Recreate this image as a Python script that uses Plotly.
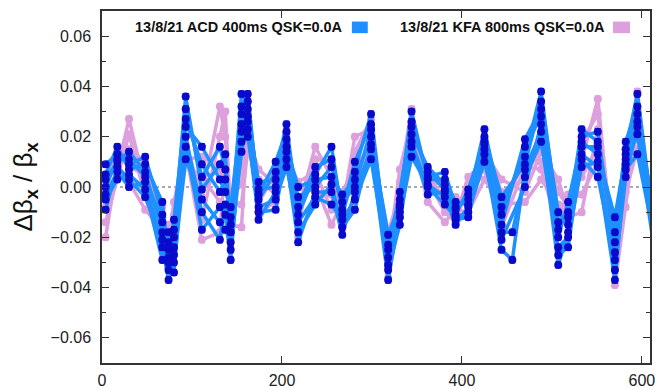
import plotly.graph_objects as go

# BPM positions along the ring [m]
s_pos = [4, 17, 30, 48, 67, 74, 80, 93, 111, 131,
         137, 143, 155, 162, 174, 193, 205, 218, 237, 255,
         267, 281, 299, 318, 331, 344, 362, 381, 393, 407,
         425, 444, 456, 470, 488, 507, 518, 533, 551, 570,
         582, 595, 615]

# Horizontal beta-beating, ACD 400 ms runs (None = BPM not available)
acd_1 = [.009, .013, .009, .012, -.011, -.025, -.013, .031, .004, .016,
         .007, -.015, .037, .034, -.003, .010, .022, -.008, .008, .011,
         -.009, .010, .025, -.025, -.002, .026, .004, .006, -.008, -.005,
         .023, -.008, None, .012, .038, -.014, -.012, .023, .018, -.022,
         .018, .032, -.017]
acd_2 = [.005, .016, .007, .009, -.006, -.028, -.017, .036, -.001, .009,
         .013, -.018, .032, .037, -.005, .006, .025, -.011, .005, .016,
         -.011, .006, .029, -.028, -.005, .030, .003, .003, -.006, -.007,
         .020, -.004, None, .009, .034, -.010, -.015, .020, .022, -.026,
         .015, .037, -.020]
acd_3 = [.003, .010, .014, .006, -.018, -.018, -.020, .024, .016, .003,
         -.002, -.008, .029, .028, .002, .003, .016, .000, .003, .004,
         -.003, .003, .020, -.019, -.007, .021, .008, .001, -.011, -.001,
         .018, -.015, None, .019, .031, -.020, -.006, .018, .013, -.012,
         .013, .026, -.012]
acd_4 = [.000, .011, .011, .004, -.014, -.022, -.024, .027, .009, -.002,
         .003, -.012, .025, .031, -.001, .000, .019, -.004, .000, .008,
         -.006, .000, .023, -.023, -.008, .024, .006, -.001, -.009, -.003,
         .017, -.011, None, .016, .028, -.017, -.010, .016, .016, -.018,
         .011, .029, -.015]
acd_5 = [-.003, .006, .000, .002, -.024, -.037, -.027, .016, -.017, -.008,
         -.011, -.029, .022, .023, -.013, -.002, .011, -.022, -.002, -.002,
         -.019, -.002, .015, -.037, -.010, .016, -.003, -.002, -.013, -.012,
         .015, -.021, None, .000, .025, -.027, -.024, .013, .008, -.037,
         .009, .021, -.028]
acd_6 = [-.005, .003, .005, -.001, -.029, -.030, -.030, .011, -.005, -.014,
         -.017, -.022, .018, .020, -.008, -.005, .008, -.014, -.004, -.007,
         -.013, -.005, .011, -.031, -.012, .012, .001, -.004, -.015, -.008,
         .013, -.025, -.029, .007, .022, -.031, -.018, .011, .004, -.029,
         .007, .013, -.022]
acd_7 = [-.009, .008, .003, -.004, -.021, -.033, -.034, .020, -.010, -.021,
         -.007, -.025, .014, .026, -.010, -.009, .014, -.018, -.007, .001,
         -.016, -.009, .017, -.033, -.015, .018, .000, -.007, -.012, -.010,
         .010, -.018, -.018, .004, .018, -.024, -.020, .008, .010, -.033,
         .004, .024, -.025]

# Horizontal beta-beating, KFA 800 ms runs
kfa_1 = [.005, .012, .015, .010, -.012, -.022, -.006, .017, -.004, .032,
         .020, -.009, .019, .029, -.001, .008, .018, -.009, .016, .004,
         -.009, .020, .023, -.027, .007, .026, .000, .003, -.007, -.003,
         .017, -.002, None, .003, .017, -.002, -.008, .018, .029, -.027,
         .015, .032, -.019]
kfa_2 = [-.001, .014, .008, .005, -.008, -.026, -.011, .020, -.013, .020,
         .030, -.012, .010, .034, -.006, .005, .022, -.014, .011, .010,
         -.013, .014, .027, -.032, .002, .031, -.003, -.001, -.004, -.007,
         .014, .003, None, -.002, .014, .003, -.010, .011, .035, -.033,
         .009, .038, -.022]
kfa_3 = [-.008, .007, .027, .000, -.021, -.015, -.016, .011, .012, .007,
         .000, -.004, .001, .020, .007, .001, .012, .002, .006, -.009,
         -.002, .008, .016, -.018, -.003, .017, .006, -.006, -.012, .004,
         .010, -.011, None, .012, .010, -.011, -.003, .004, .016, -.015,
         .004, .021, -.012]
kfa_4 = [-.014, .004, .021, -.004, -.025, -.019, -.020, .009, .004, -.006,
         -.010, -.007, -.007, .015, .003, -.003, .008, -.004, .001, -.015,
         -.006, .002, .012, -.023, -.007, .012, .003, -.010, -.014, .001,
         .007, -.016, None, .008, .007, -.016, -.005, -.003, .010, -.021,
         -.002, .015, -.016]
kfa_5 = [-.020, .009, .002, -.009, -.017, -.030, -.025, .014, -.021, -.018,
         .010, -.015, -.016, .025, -.010, -.006, .015, -.020, -.004, -.003,
         -.016, -.004, .020, -.036, -.012, .022, -.006, -.014, -.009, -.010,
         .003, -.007, None, -.006, .003, -.007, -.012, -.010, .023, -.039,
         -.008, .027, -.026]

# Measurement uncertainty on each BPM reading
acd_err = 0.0012
kfa_err = 0.0012

acd_label = "13/8/21 ACD 400ms QSK=0.0A"
kfa_label = "13/8/21 KFA 800ms QSK=0.0A"

x_ticks = [0, 200, 400, 600]
y_ticks = [-0.06, -0.04, -0.02, 0.00, 0.02, 0.04, 0.06]

ACD_LINE = "#1e90ff"
ACD_DOT = "#0a0acd"
KFA_LINE = "#dda0dd"

acd_runs = [acd_1, acd_2, acd_3, acd_4, acd_5, acd_6, acd_7]
kfa_runs = [kfa_1, kfa_2, kfa_3, kfa_4, kfa_5]

fig = go.Figure()

# KFA runs: lines, points and error bars in plum
for run in kfa_runs:
    fig.add_trace(go.Scatter(
        x=s_pos, y=run, mode="lines+markers", connectgaps=True,
        line=dict(color=KFA_LINE, width=3.5),
        marker=dict(color=KFA_LINE, size=8, symbol="circle"),
        error_y=dict(type="constant", value=kfa_err, color=KFA_LINE,
                     thickness=1, width=3),
        showlegend=False, hoverinfo="skip"))

# ACD runs: connecting lines first, then the points on top
for run in acd_runs:
    fig.add_trace(go.Scatter(
        x=s_pos, y=run, mode="lines", connectgaps=True,
        line=dict(color=ACD_LINE, width=3.5),
        showlegend=False, hoverinfo="skip"))
for run in acd_runs:
    fig.add_trace(go.Scatter(
        x=s_pos, y=run, mode="markers",
        marker=dict(color=ACD_DOT, size=8, symbol="circle"),
        error_y=dict(type="constant", value=acd_err, color=ACD_DOT,
                     thickness=1, width=3),
        showlegend=False, hoverinfo="skip"))

# dotted zero reference
fig.add_shape(type="line", xref="paper", x0=0, x1=1, yref="y", y0=0, y1=0,
              line=dict(color="#555555", width=1, dash="dot"), layer="below")

# key placed inside the top of the frame, sample box to the right of text
key_font = dict(family="Liberation Sans, Arial, sans-serif", size=14.5,
                color="#111111")
fig.add_annotation(xref="paper", yref="paper", x=0.056, y=0.954,
                   xanchor="left", yanchor="middle", showarrow=False,
                   text="<b>%s</b>" % acd_label, font=key_font)
fig.add_shape(type="rect", xref="paper", yref="paper",
              x0=0.456, x1=0.485, y0=0.937, y1=0.970,
              fillcolor=ACD_LINE, line=dict(width=0))
fig.add_annotation(xref="paper", yref="paper", x=0.540, y=0.954,
                   xanchor="left", yanchor="middle", showarrow=False,
                   text="<b>%s</b>" % kfa_label, font=key_font)
fig.add_shape(type="rect", xref="paper", yref="paper",
              x0=0.9325, x1=0.9635, y0=0.937, y1=0.970,
              fillcolor=KFA_LINE, line=dict(width=0))

axis_font = dict(family="Liberation Sans, Arial, sans-serif", size=16,
                 color="#222222")

fig.update_layout(
    width=655, height=389,
    margin=dict(l=102, r=5, t=11, b=26, autoexpand=False),
    paper_bgcolor="white", plot_bgcolor="white",
    showlegend=False,
    font=axis_font,
    xaxis=dict(range=[0, 609], tickvals=x_ticks, ticks="inside",
               ticklen=7, tickwidth=1, tickcolor="#333333",
               showline=True, linecolor="#333333", linewidth=1.5,
               mirror="ticks", showgrid=False, zeroline=False,
               tickfont=axis_font, ticklabelstandoff=2,
               ticklabeloverflow="allow"),
    yaxis=dict(range=[-0.07, 0.07], tickvals=y_ticks, tickformat=".2f",
               ticks="inside", ticklen=7, tickwidth=1, tickcolor="#333333",
               minor=dict(dtick=0.01, ticks="inside", ticklen=4,
                          tickcolor="#333333", showgrid=False),
               showline=True, linecolor="#333333", linewidth=1.5,
               mirror="ticks", showgrid=False, zeroline=False,
               tickfont=axis_font, ticklabelstandoff=6,
               title=dict(text="Δβ<sub><b>x</b></sub> / β<sub><b>x</b></sub>",
                          font=dict(family="Liberation Sans, Arial, sans-serif",
                                    size=26, color="#111111"),
                          standoff=10)),
)

fig.write_html("out.html")
